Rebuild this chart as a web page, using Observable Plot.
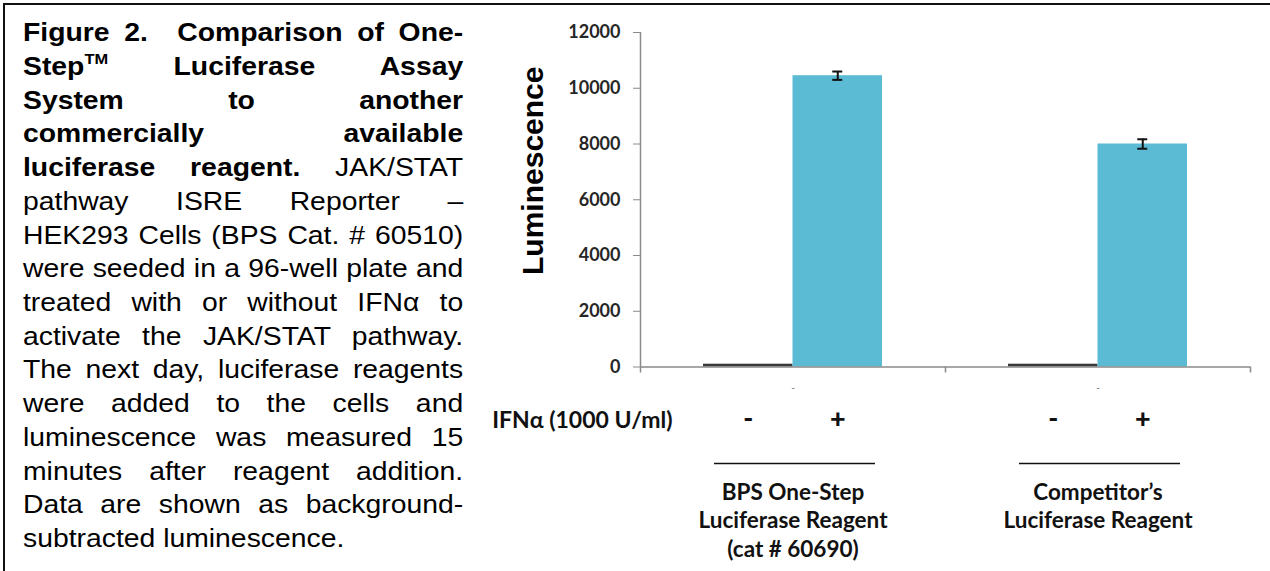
<!DOCTYPE html>
<html>
<head>
<meta charset="utf-8">
<script src="https://cdn.jsdelivr.net/npm/d3@7"></script>
<script src="https://cdn.jsdelivr.net/npm/@observablehq/plot@0.6"></script>
<style>
html, body { margin: 0; padding: 0; background: #fff; overflow: hidden; width: 1270px; height: 571px; }
#wrap { position: relative; width: 1270px; height: 571px; }
#chart { position: absolute; left: 0; top: 0; }
#cap {
  position: absolute; left: 23px; top: 16.1px; width: 393px;
  transform: scaleX(1.12); transform-origin: 0 0;
  font-family: "Liberation Sans", Arial, sans-serif; font-size: 25.3px; line-height: 33.73px; color: #000;
}
#cap .j { text-align: justify; text-align-last: justify; }
#cap sup { font-size: 58%; line-height: 0; vertical-align: 0.75em; }
#border {
  position: absolute; left: 3px; top: 3px; width: 1267px; height: 568px;
  border-top: 2.6px solid #111; border-left: 2.6px solid #111; box-sizing: border-box;
}
</style>
</head>
<body>
<div id="wrap">
  <div id="chart"></div>
  <div id="cap">
    <div class="j"><b>Figure 2.&nbsp; Comparison of One-</b></div>
    <div class="j"><b>Step<sup>TM</sup> Luciferase Assay</b></div>
    <div class="j"><b>System to another</b></div>
    <div class="j"><b>commercially available</b></div>
    <div class="j"><b>luciferase reagent.</b> JAK/STAT</div>
    <div class="j">pathway ISRE Reporter –</div>
    <div class="j">HEK293 Cells (BPS Cat. # 60510)</div>
    <div class="j">were seeded in a 96-well plate and</div>
    <div class="j">treated with or without IFNα to</div>
    <div class="j">activate the JAK/STAT pathway.</div>
    <div class="j">The next day, luciferase reagents</div>
    <div class="j">were added to the cells and</div>
    <div class="j">luminescence was measured 15</div>
    <div class="j">minutes after reagent addition.</div>
    <div class="j">Data are shown as background-</div>
    <div>subtracted luminescence.</div>
  </div>
  <div id="border"></div>
</div>
<script>
// ---- data ----
const groups = ["BPS One-Step", "Competitor"];
const groupLabels = ["BPS One-Step\nLuciferase Reagent\n(cat # 60690)", "Competitor’s\nLuciferase Reagent"];
const treatments = ["-", "+"];
const valuesMinus = [100, 100];
const valuesPlus = [10450, 8000];
const errorsPlus = [150, 170];
const yTicks = [0, 2000, 4000, 6000, 8000, 10000, 12000];
const categoryTickLabels = ["-", "-"];
const treatmentLabel = "IFNα (1000 U/ml)";
const yLabel = "Luminescence";

// ---- table built from arrays ----
const minusRows = groups.map((g, i) => ({group: g, treatment: treatments[0], value: valuesMinus[i]}));
const plusRows = groups.map((g, i) => ({group: g, treatment: treatments[1], value: valuesPlus[i], err: errorsPlus[i]}));

// ---- layout ----
const W = 1270, H = 571, ML = 640, MR = 20, MT = 32, MB = 204.5;
const band = (W - ML - MR) / groups.length;
const barW = 89.5;
const outer = band / 2 - barW;
const innerH = H - MT - MB;
const capHalf = 5;
const axisGray = "#8a8a8a";
const blue = "#5bbbd5";
const dark = "#3a3a3a";
const labelFont = "Lato, 'Open Sans', sans-serif";

const plot = Plot.plot({
  width: W, height: H,
  marginLeft: ML, marginRight: MR, marginTop: MT, marginBottom: MB,
  style: {fontFamily: labelFont, background: "transparent", overflow: "visible"},
  x: {type: "band", domain: groups, padding: 0, axis: null},
  y: {domain: [0, yTicks[yTicks.length - 1]], label: null},
  marks: [
    Plot.barY(minusRows, {x: "group", y: "value", fill: dark, insetLeft: outer, insetRight: band / 2}),
    Plot.barY(plusRows, {x: "group", y: "value", fill: blue, insetLeft: band / 2, insetRight: outer}),
    // error bars
    Plot.ruleX(plusRows, {x: "group", y1: d => d.value - d.err, y2: d => d.value + d.err, dx: barW / 2, stroke: "#111", strokeWidth: 2}),
    Plot.ruleY(plusRows, {x1: "group", x2: "group", y: d => d.value + d.err, insetLeft: band / 2 + barW / 2 - capHalf, insetRight: band / 2 - barW / 2 - capHalf, stroke: "#111", strokeWidth: 2}),
    Plot.ruleY(plusRows, {x1: "group", x2: "group", y: d => d.value - d.err, insetLeft: band / 2 + barW / 2 - capHalf, insetRight: band / 2 - barW / 2 - capHalf, stroke: "#111", strokeWidth: 2}),
    // axes
    Plot.ruleY([0], {stroke: axisGray, strokeWidth: 1.5}),
    Plot.ruleX([groups[0]], {x: d => d, dx: -band / 2, y1: 0, y2: yTicks[yTicks.length - 1], stroke: axisGray, strokeWidth: 1.5}),
    Plot.ruleX(groups, {x: d => d, dx: -band / 2, insetTop: innerH, insetBottom: -6, stroke: axisGray, strokeWidth: 1.5}),
    Plot.ruleX([groups[groups.length - 1]], {x: d => d, dx: band / 2, insetTop: innerH, insetBottom: -6, stroke: axisGray, strokeWidth: 1.5}),
    Plot.axisY({ticks: yTicks, tickSize: 7, tickPadding: 13, tickFormat: d => String(d), stroke: axisGray, fill: "#262626", fontSize: 18, fontWeight: "bold", fontFamily: labelFont}),
    Plot.text([yLabel], {text: d => d, frameAnchor: "left", textAnchor: "middle", lineAnchor: "middle", rotate: -90, dx: -107, dy: -29, fontSize: 30, fontWeight: "bold", fontFamily: "'Liberation Sans', Arial, sans-serif", fill: "#000"}),
    // category tick labels
    Plot.text(groups, {x: d => d, text: (d, i) => categoryTickLabels[i], frameAnchor: "bottom", dy: 23.5, fontSize: 10, fill: "#666"}),
    // treatment labels
    Plot.text([treatmentLabel], {text: d => d, frameAnchor: "bottom-left", textAnchor: "end", dx: 32, dy: 60.5, fontSize: 23, fontWeight: "bold", fill: "#111"}),
    Plot.text(minusRows, {x: "group", text: "treatment", frameAnchor: "bottom", dx: -barW / 2, dy: 60.5, fontSize: 27, fontWeight: "900", fill: "#111"}),
    Plot.text(plusRows, {x: "group", text: "treatment", frameAnchor: "bottom", dx: barW / 2, dy: 60.5, fontSize: 27, fontWeight: "900", fill: "#111"}),
    // group underline and labels
    Plot.ruleY(groups, {x1: d => d, x2: d => d, y: () => 0, dy: 96.5, insetLeft: 74, insetRight: 70, stroke: "#111", strokeWidth: 1.5}),
    Plot.text(groups, {x: d => d, text: (d, i) => groupLabels[i], frameAnchor: "bottom", lineAnchor: "top", dy: 112.5, lineHeight: 1.27, fontSize: 22.5, fontWeight: "bold", fill: "#111"})
  ]
});
document.getElementById("chart").appendChild(plot);
</script>
</body>
</html>
